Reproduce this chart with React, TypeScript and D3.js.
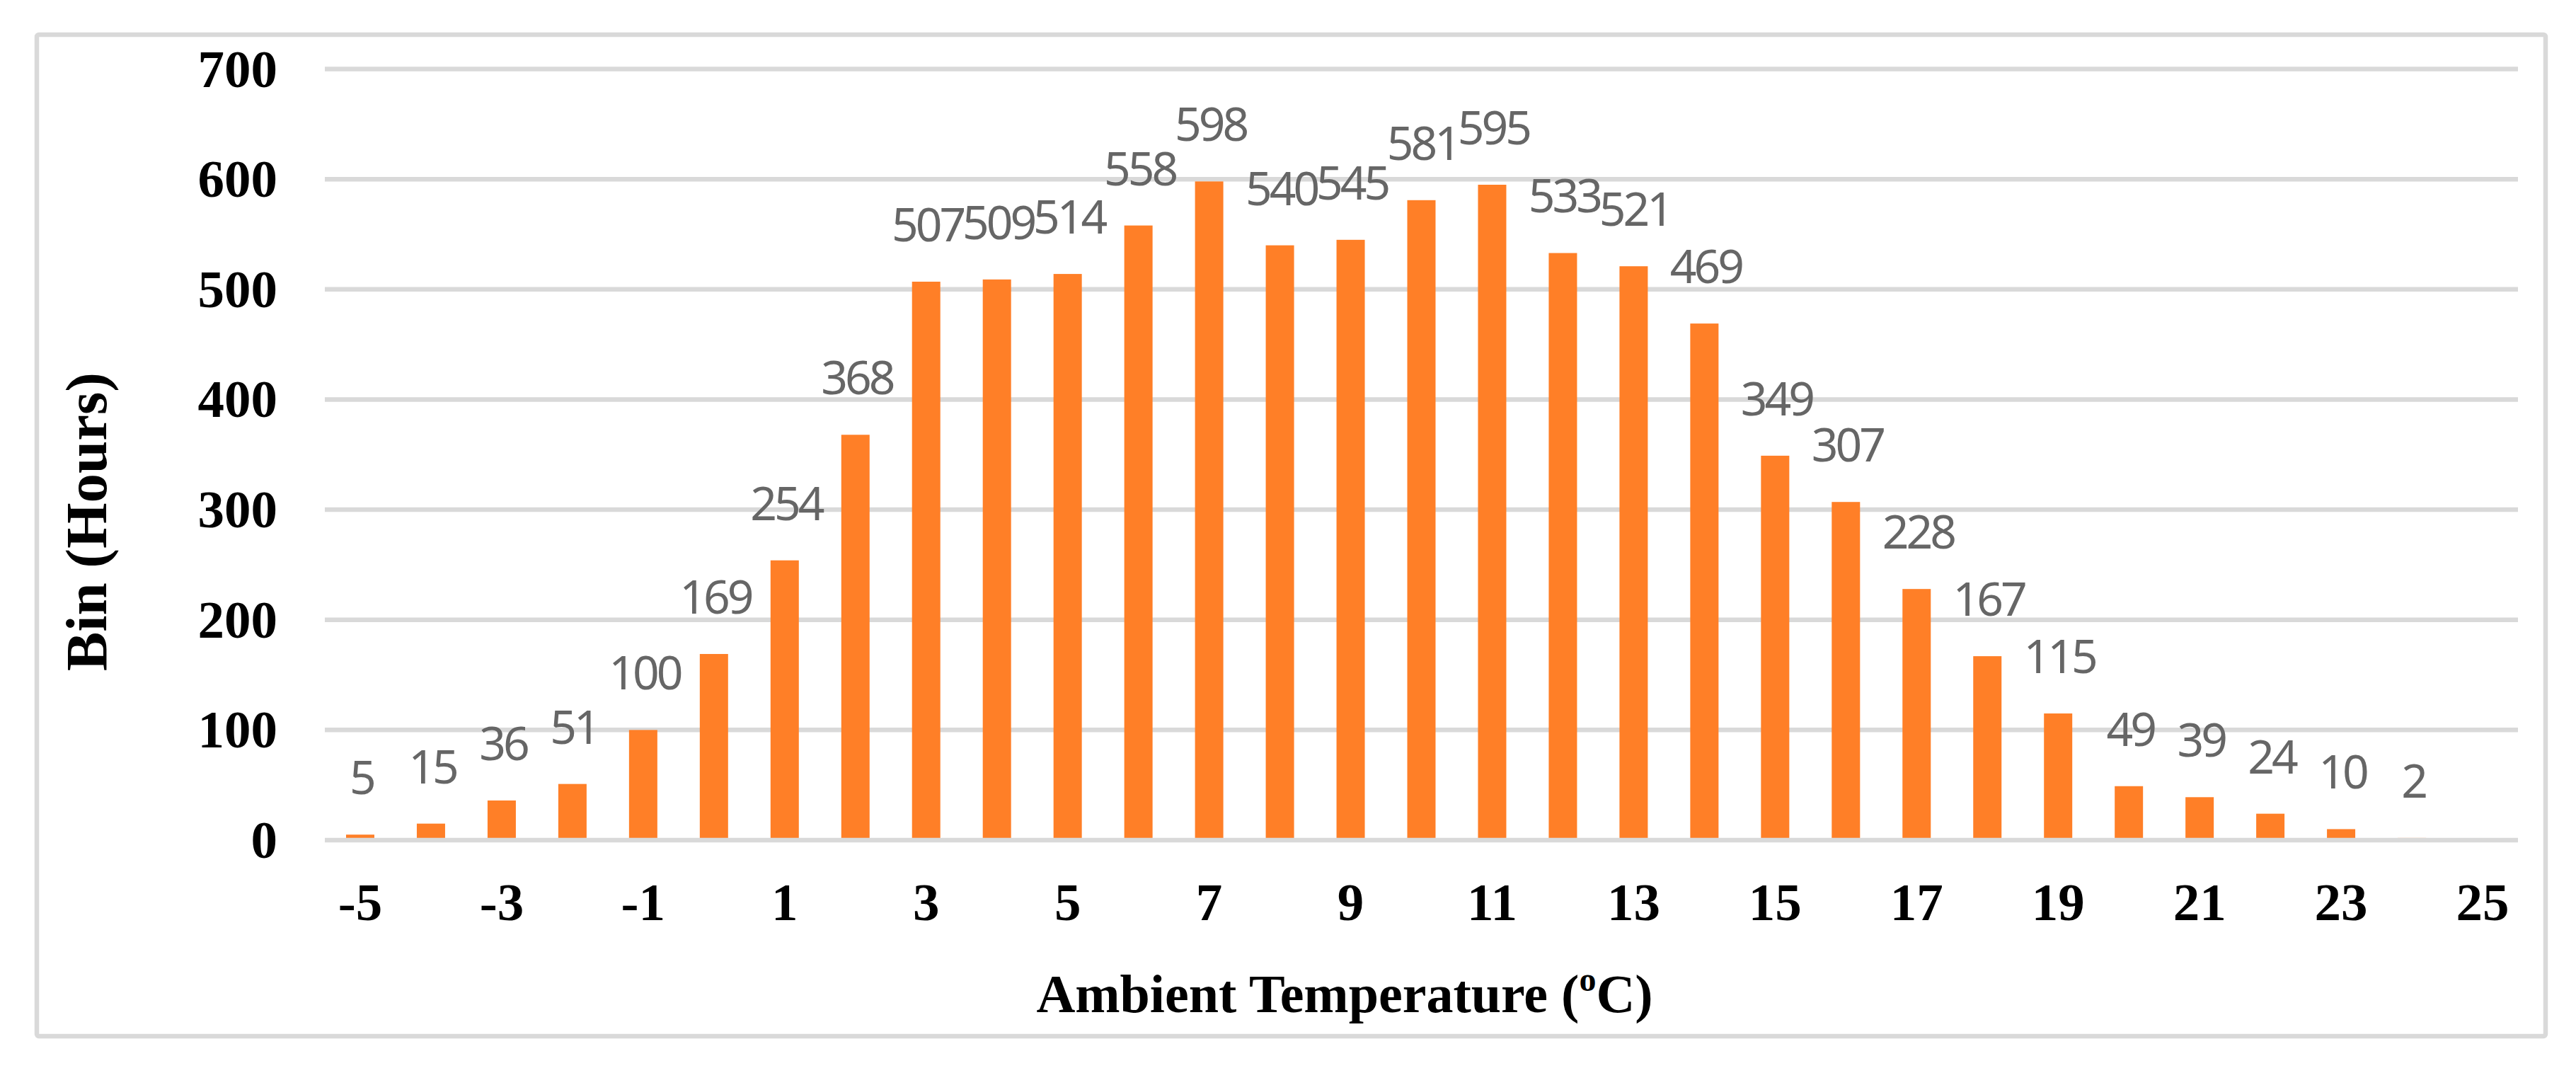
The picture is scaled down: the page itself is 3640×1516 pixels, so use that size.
import React from "react";
import * as d3 from "d3";

const categories: string[] = [
  "-5", "-4", "-3", "-2", "-1", "0", "1", "2", "3", "4", "5", "6", "7", "8", "9", "10",
  "11", "12", "13", "14", "15", "16", "17", "18", "19", "20", "21", "22", "23", "24", "25",
];
const binHours: (number | null)[] = [
  5, 15, 36, 51, 100, 169, 254, 368, 507, 509, 514, 558, 598, 540, 545, 581, 595, 533,
  521, 469, 349, 307, 228, 167, 115, 49, 39, 24, 10, 2, null,
];
const xTickLabels: string[] = ["-5", "-3", "-1", "1", "3", "5", "7", "9", "11", "13", "15", "17", "19", "21", "23", "25"];
const yTicks: number[] = [0, 100, 200, 300, 400, 500, 600, 700];

const W = 3640;
const H = 1516;
const serif = "'Times New Roman', 'Liberation Serif', serif";
const sans = "'Noto Sans', 'Open Sans', sans-serif";
const grid = "#D9D9D9";
const barColor = "#FF7F27";
const labelColor = "#666666";

export default function App() {
  const x = d3
    .scaleBand<string>()
    .domain(categories)
    .range([459, 3558])
    .paddingInner(0.6)
    .paddingOuter(0.3);
  const y = d3.scaleLinear().domain([0, 700]).range([1187, 97.6]);
  const center = (c: string) => (x(c) ?? 0) + x.bandwidth() / 2;

  return (
    <svg
      width={W}
      height={H}
      viewBox={`0 0 ${W} ${H}`}
      style={{ position: "absolute", left: 0, top: 0, background: "#fff" }}
    >
      <rect x={0} y={0} width={W} height={H} fill="#fff" />
      <rect x={52} y={49} width={3545} height={1415} rx={3} fill="#fff" stroke={grid} strokeWidth={6.5} />

      {/* gridlines */}
      {yTicks.filter((t) => t !== 0).map((t) => (
        <line key={t} x1={459} x2={3558} y1={y(t)} y2={y(t)} stroke={grid} strokeWidth={6.5} />
      ))}

      {/* bars */}
      {categories.map((c, i) => {
        const v = binHours[i];
        if (v == null) return null;
        return (
          <rect
            key={c}
            x={x(c)}
            y={y(v)}
            width={x.bandwidth()}
            height={y(0) - y(v)}
            fill={barColor}
          />
        );
      })}

      {/* baseline */}
      <line x1={459} x2={3558} y1={y(0)} y2={y(0)} stroke={grid} strokeWidth={6.5} />

      {/* data labels */}
      {categories.map((c, i) => {
        const v = binHours[i];
        if (v == null) return null;
        return (
          <text
            key={"l" + c}
            x={center(c) + 2}
            y={y(v) - 57}
            textAnchor="middle"
            fontFamily={sans}
            fontSize={66}
            letterSpacing={-4}
            fill={labelColor}
          >
            {v}
          </text>
        );
      })}

      {/* y tick labels */}
      {yTicks.map((t) => (
        <text
          key={"y" + t}
          x={392}
          y={y(t) + 25}
          textAnchor="end"
          fontFamily={serif}
          fontWeight="bold"
          fontSize={75}
          fill="#000"
        >
          {t}
        </text>
      ))}

      {/* x tick labels */}
      {xTickLabels.map((t) => (
        <text
          key={"x" + t}
          x={center(t)}
          y={1300}
          textAnchor="middle"
          fontFamily={serif}
          fontWeight="bold"
          fontSize={75}
          fill="#000"
        >
          {t}
        </text>
      ))}

      {/* axis titles */}
      <text
        transform="translate(150,737) rotate(-90)"
        textAnchor="middle"
        fontFamily={serif}
        fontWeight="bold"
        fontSize={83}
        fill="#000"
      >
        Bin (Hours)
      </text>
      <text
        x={1900}
        y={1430}
        textAnchor="middle"
        fontFamily={serif}
        fontWeight="bold"
        fontSize={76}
        fill="#000"
      >
        Ambient Temperature (
        <tspan fontSize={48} dy={-30}>o</tspan>
        <tspan dy={30}>C)</tspan>
      </text>
    </svg>
  );
}
